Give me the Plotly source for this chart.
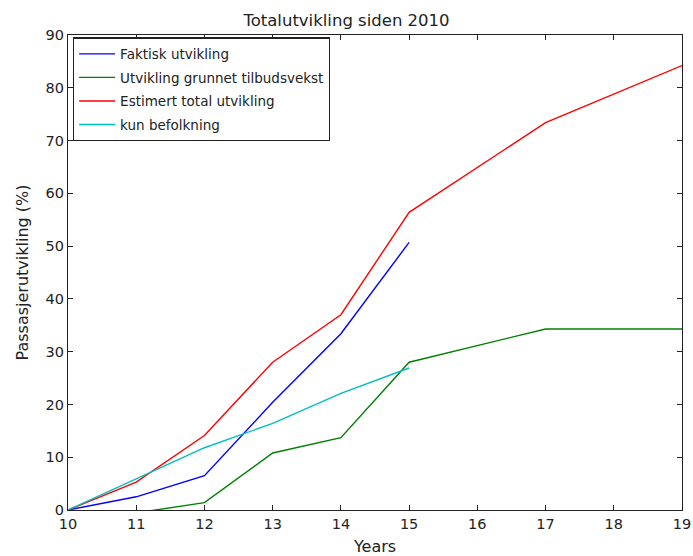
import plotly.graph_objects as go

faktisk_x = [10, 11, 12, 13, 14, 15]
faktisk_y = [0.0, 2.5, 6.5, 20.4, 33.4, 50.7]

tilbud_x = [10, 11, 12, 13, 14, 15, 17, 19]
tilbud_y = [-2.5, -0.5, 1.4, 10.8, 13.7, 28.0, 34.3, 34.3]

total_x = [10, 11, 12, 13, 14, 15, 17, 19]
total_y = [0.0, 5.3, 14.1, 28.0, 37.0, 56.4, 73.4, 84.2]

befolk_x = [10, 11, 12, 13, 14, 15]
befolk_y = [0.0, 5.9, 11.8, 16.4, 22.1, 26.9]

series = [
    ("Faktisk utvikling", faktisk_x, faktisk_y, "#0000ff"),
    ("Utvikling grunnet tilbudsvekst", tilbud_x, tilbud_y, "#008000"),
    ("Estimert total utvikling", total_x, total_y, "#ff0000"),
    ("kun befolkning", befolk_x, befolk_y, "#00bfbf"),
]

fig = go.Figure()
for name, xs, ys, color in series:
    fig.add_trace(go.Scatter(x=xs, y=ys, mode="lines", name=name,
                             legendgroup=name,
                             line=dict(color=color, width=1.4)))

axis_style = dict(
    showgrid=False, zeroline=False, showline=True, linecolor="#222222",
    linewidth=1.2, mirror="ticks", ticks="inside", ticklen=5,
    tickcolor="#222222", tickfont=dict(size=14.5, color="#222222"),
    automargin=False,
)

fig.update_layout(
    width=693, height=556,
    margin=dict(l=68, r=11, t=35, b=46),
    paper_bgcolor="white", plot_bgcolor="white",
    font=dict(family="DejaVu Sans", color="#222222"),
    title=dict(text="Totalutvikling siden 2010", x=0.5, xanchor="center",
               y=1 - 20 / 556, yanchor="middle", font=dict(size=16.5)),
    xaxis=dict(range=[10, 19], dtick=1, tick0=10,
               title=dict(text="Years", font=dict(size=16), standoff=12),
               **axis_style),
    yaxis=dict(range=[0, 90], dtick=10, tick0=0,
               title=dict(text="Passasjerutvikling (%)", font=dict(size=16), standoff=12),
               **axis_style),
    legend=dict(x=0.008, y=0.995, xanchor="left", yanchor="top",
                bgcolor="white", bordercolor="#222222", borderwidth=1.2,
                font=dict(size=13.5), tracegroupgap=3, itemwidth=36),
    showlegend=True,
)

fig.write_html("out.html")
